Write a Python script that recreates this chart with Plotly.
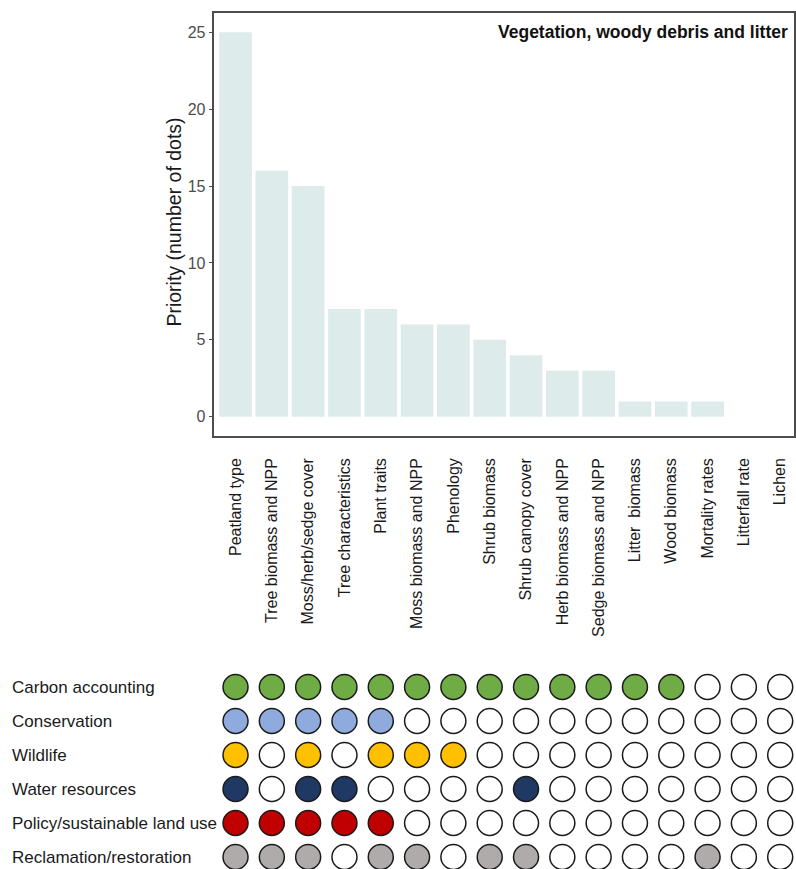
import plotly.graph_objects as go

# Vegetation, woody debris and litter: priority per measurement and the
# application areas that flagged each one.
categories = [
    "Peatland type", "Tree biomass and NPP", "Moss/herb/sedge cover",
    "Tree characteristics", "Plant traits", "Moss biomass and NPP",
    "Phenology", "Shrub biomass", "Shrub canopy cover",
    "Herb biomass and NPP", "Sedge biomass and NPP", "Litter  biomass",
    "Wood biomass", "Mortality rates", "Litterfall rate", "Lichen",
]
priority = [25, 16, 15, 7, 7, 6, 6, 5, 4, 3, 3, 1, 1, 1, 0, 0]

uses = [
    "Carbon accounting", "Conservation", "Wildlife", "Water resources",
    "Policy/sustainable land use", "Reclamation/restoration",
]
use_colors = ["#6FAC46", "#8FAADC", "#FFC000", "#1F3864", "#C00000", "#AFABAB"]

# 1 = flagged by that application area, 0 = not flagged (one entry per category)
carbon_accounting = [1, 1, 1, 1, 1, 1, 1, 1, 1, 1, 1, 1, 1, 0, 0, 0]
conservation =      [1, 1, 1, 1, 1, 0, 0, 0, 0, 0, 0, 0, 0, 0, 0, 0]
wildlife =          [1, 0, 1, 0, 1, 1, 1, 0, 0, 0, 0, 0, 0, 0, 0, 0]
water_resources =   [1, 0, 1, 1, 0, 0, 0, 0, 1, 0, 0, 0, 0, 0, 0, 0]
policy_land_use =   [1, 1, 1, 1, 1, 0, 0, 0, 0, 0, 0, 0, 0, 0, 0, 0]
reclamation =       [1, 1, 1, 0, 1, 1, 0, 1, 1, 0, 0, 0, 0, 1, 0, 0]
flags = [carbon_accounting, conservation, wildlife, water_resources,
         policy_land_use, reclamation]

W, H = 796, 869
FONT = "Liberation Sans, Arial, sans-serif"
AXIS_GREY = "#4D4D4D"

fig = go.Figure()

fig.add_trace(go.Bar(
    x=categories, y=priority, marker=dict(color="#DEEBEB", line=dict(width=0)),
    width=0.9, xaxis="x", yaxis="y", showlegend=False,
))

# Dot matrix: one row per application area
for r, (use, col, row) in enumerate(zip(uses, use_colors, flags)):
    fill = [col if f else "white" for f in row]
    fig.add_trace(go.Scatter(
        x=categories, y=[-r] * len(categories), mode="markers",
        marker=dict(size=25, color=fill, line=dict(color="#1A1A1A", width=1.5)),
        xaxis="x2", yaxis="y2", showlegend=False, cliponaxis=False,
    ))
    fig.add_annotation(
        x=10 / W, xref="paper", y=-r, yref="y2", text=use, showarrow=False,
        xanchor="left", yanchor="middle", font=dict(family=FONT, size=17, color="#1A1A1A"),
    )

x_left = 215
x_range = [-0.58, 15.38]
bar_top, bar_bottom = 13, 436
dot_top = 670

fig.update_layout(
    width=W, height=H, margin=dict(l=0, r=0, t=0, b=0),
    paper_bgcolor="white", plot_bgcolor="white",
    font=dict(family=FONT, size=15, color="#1A1A1A"),
    bargap=0.1,
    xaxis=dict(
        domain=[x_left / W, 1.0], range=x_range, type="category",
        tickangle=-90, tickfont=dict(size=16, color="#1A1A1A"),
        ticks="", ticklabelstandoff=14,
        showline=True, linecolor=AXIS_GREY, linewidth=1.5, mirror=True,
        showgrid=False, zeroline=False,
    ),
    yaxis=dict(
        domain=[1 - bar_bottom / H, 1 - bar_top / H], range=[-1.25, 26.25],
        tickvals=[0, 5, 10, 15, 20, 25], tickfont=dict(size=16, color=AXIS_GREY),
        ticks="outside", ticklen=4, tickcolor=AXIS_GREY,
        showline=True, linecolor=AXIS_GREY, linewidth=1.5, mirror=True,
        showgrid=False, zeroline=False,
    ),
    xaxis2=dict(
        domain=[x_left / W, 1.0], range=x_range, type="category",
        visible=False, matches="x",
    ),
    yaxis2=dict(
        domain=[0, 1 - dot_top / H], range=[-5.353, 0.5], visible=False,
    ),
)

fig.add_annotation(
    x=792 / W, xref="paper", y=25, yref="y", text="<b>Vegetation, woody debris and litter</b>",
    showarrow=False, xanchor="right", yanchor="middle",
    font=dict(family=FONT, size=17.5, color="#111111"),
)
fig.add_annotation(
    x=174 / W, xref="paper", y=1 - 222 / H, yref="paper", text="Priority (number of dots)",
    textangle=-90, showarrow=False, xanchor="center", yanchor="middle",
    font=dict(family=FONT, size=19.5, color="#1A1A1A"),
)

fig.write_html("out.html")
